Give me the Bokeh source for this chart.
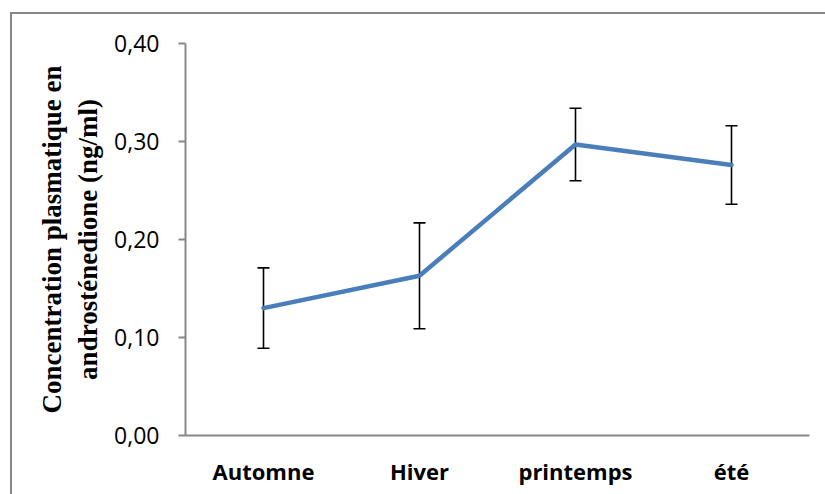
from bokeh.plotting import figure
from bokeh.models import (ColumnDataSource, FactorRange, Range1d, Whisker, TeeHead,
                          FixedTicker, CustomJSTickFormatter, InlineStyleSheet)
from bokeh.embed import file_html
from bokeh.resources import INLINE

seasons = ["Automne", "Hiver", "printemps", "été"]
means = [0.130, 0.163, 0.297, 0.276]
errors = [0.041, 0.054, 0.037, 0.040]
y_ticks = [0.0, 0.1, 0.2, 0.3, 0.4]
y_title = "Concentration plasmatique en\nandrosténedione (ng/ml)"

src = ColumnDataSource(dict(
    x=seasons, y=means,
    upper=[m + e for m, e in zip(means, errors)],
    lower=[m - e for m, e in zip(means, errors)],
))

p = figure(width=825, height=494, output_backend="svg", toolbar_location=None,
           x_range=FactorRange(*seasons, range_padding=0), y_range=Range1d(0, 0.4),
           min_border_left=185, min_border_top=43, min_border_right=16, min_border_bottom=59)
p.outline_line_color = None
p.xgrid.visible = False
p.ygrid.visible = False
p.background_fill_color = None
p.border_fill_color = None

# outer chart border (left and top sides visible; the rest lies outside the window)
p.stylesheets = [InlineStyleSheet(css=(
    ":host::before { content: ''; position: absolute; left: 10px; top: 12px; "
    "right: 0; bottom: 0; border-left: 2px solid #878787; border-top: 2px solid #878787; "
    "pointer-events: none; z-index: 1; }"
))]

p.line(x="x", y="y", source=src, line_color="#4A7EBB", line_width=4.5,
       line_join="round", line_cap="round")

w = Whisker(base="x", upper="upper", lower="lower", source=src,
            line_color="black", line_width=1.6,
            upper_head=TeeHead(size=12, line_color="black", line_width=1.6),
            lower_head=TeeHead(size=12, line_color="black", line_width=1.6))
p.add_layout(w)

# y axis
ya = p.yaxis[0]
ya.ticker = FixedTicker(ticks=y_ticks)
ya.formatter = CustomJSTickFormatter(code="return tick.toFixed(2).replace('.', ',');")
ya.axis_line_color = "#878787"
ya.axis_line_width = 2
ya.major_tick_line_color = "#878787"
ya.major_tick_line_width = 2
ya.major_tick_out = 7
ya.major_tick_in = 0
ya.minor_tick_line_color = None
ya.major_label_text_font = "Open Sans"
ya.major_label_text_font_size = "23px"
ya.major_label_text_color = "black"
ya.major_label_standoff = 19
ya.axis_label = y_title
ya.axis_label_text_font = "Liberation Serif"
ya.axis_label_text_font_style = "bold"
ya.axis_label_text_font_size = "27px"
ya.axis_label_text_color = "black"
ya.axis_label_standoff = 8

# x axis
xa = p.xaxis[0]
xa.axis_line_color = "#878787"
xa.axis_line_width = 2
xa.major_tick_line_color = None
xa.major_tick_out = 0
xa.major_tick_in = 0
xa.minor_tick_line_color = None
xa.major_label_text_font = "Open Sans"
xa.major_label_text_font_style = "bold"
xa.major_label_text_font_size = "22px"
xa.major_label_text_color = "black"
xa.major_label_standoff = 20

open("out.html", "w").write(file_html(p, INLINE))
